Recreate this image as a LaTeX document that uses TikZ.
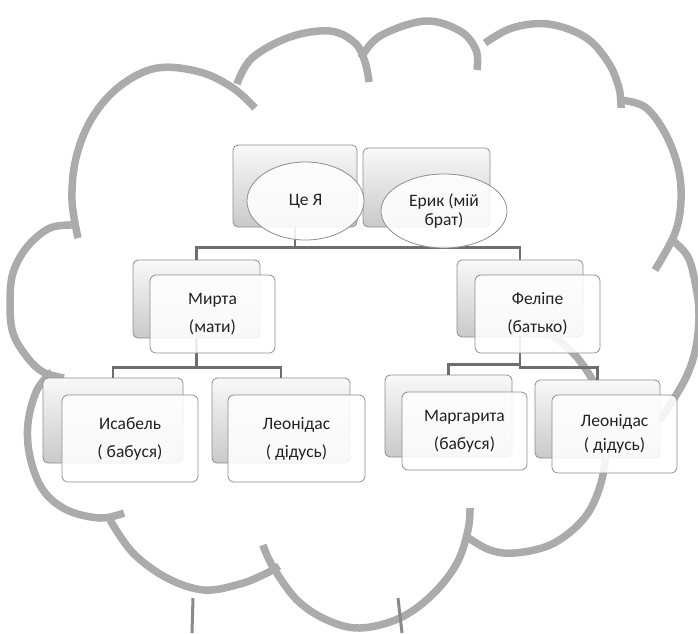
\documentclass[tikz,border=0pt]{standalone}
\usepackage{fontspec}
\setmainfont{Carlito}
\usetikzlibrary{shapes.geometric}
\definecolor{cloudgray}{HTML}{ABABAB}
\definecolor{conngray}{HTML}{6E6E6E}
\definecolor{boxline}{HTML}{8E8E8E}
\definecolor{txt}{HTML}{222222}
\definecolor{trunkgray}{HTML}{8A8A8A}
\begin{document}
\begin{tikzpicture}[x=1pt,y=-1pt,
 cloudline/.style={draw=cloudgray,line width=7.5pt},
 backbox/.style={rectangle,rounded corners=5pt,draw=boxline,line width=0.8pt,top color=gray!5,bottom color=gray!42,inner sep=0pt},
 frontbox/.style={rectangle,rounded corners=6pt,draw=boxline,line width=0.8pt,fill=white,fill opacity=0.88,text opacity=1,inner sep=0pt,text=txt,align=center,font=\fontsize{17.5}{21}\selectfont},
 oval/.style={ellipse,draw=boxline,line width=0.8pt,fill=white,fill opacity=0.88,text opacity=1,inner sep=0pt,text=txt,align=center,font=\fontsize{17.5}{19}\selectfont},
 conn/.style={draw=conngray,line width=2.6pt},
 trunkline/.style={draw=trunkgray,line width=3pt}]
\useasboundingbox[fill=white] (0,0) rectangle (698,633);
% cloud lobes
\draw[cloudline] plot[smooth,tension=0.6] coordinates {(78,238) (72,200) (76,158) (92,118) (120,86) (157,68) (200,72) (233,88) (255,108)};
\draw[cloudline] plot[smooth,tension=0.6] coordinates {(237,84) (252,58) (290,37) (330,31) (355,43) (365,62) (369,82)};
\draw[cloudline] plot[smooth,tension=0.6] coordinates {(361,58) (380,36) (425,21) (460,31) (476,50) (477,70)};
\draw[cloudline] plot[smooth,tension=0.6] coordinates {(485,43) (512,28) (548,24) (585,37) (608,62) (619,88) (621,108)};
\draw[cloudline] plot[smooth,tension=0.6] coordinates {(620,100) (645,107) (665,133) (678,167) (681,200) (675,233) (655,270)};
\draw[cloudline] plot[smooth,tension=0.6] coordinates {(672,240) (688,257) (696,287) (699,315) (696,347) (688,373) (675,397) (660,420)};
\draw[cloudline] plot[smooth,tension=0.6] coordinates {(552,335) (575,355) (595,385) (605,420) (605,463) (595,500) (578,525) (550,545) (515,553) (490,550) (467,537)};
\draw[cloudline] plot[smooth,tension=0.6] coordinates {(263,545) (273,567) (297,600) (327,620) (360,628) (400,618) (433,594) (457,563) (468,530) (470,508)};
\draw[cloudline] plot[smooth,tension=0.6] coordinates {(110,520) (133,553) (167,578) (204,590) (240,584) (265,574) (279,566)};
\draw[cloudline] plot[smooth,tension=0.6] coordinates {(52,372) (37,390) (28,423) (30,457) (43,490) (67,510) (100,518) (124,513)};
\draw[cloudline] plot[smooth,tension=0.6] coordinates {(76,225) (50,228) (27,247) (13,273) (10,303) (13,333) (27,357) (43,372) (64,378)};
% trunk
\coordinate (t1a) at (193,598); \coordinate (t1b) at (192,633);
\coordinate (t2a) at (398,598); \coordinate (t2b) at (402,633);
\draw[trunkline] (t1a) -- (t1b);
\draw[trunkline] (t2a) -- (t2b);
% back boxes
\node[backbox,minimum width=124pt,minimum height=82pt] (ceyaB) at (295,186) {};
\node[backbox,minimum width=127pt,minimum height=79pt] (erykB) at (426.5,187.5) {};
\node[backbox,minimum width=127pt,minimum height=78pt] (myrtaB) at (196.5,299) {};
\node[backbox,minimum width=126pt,minimum height=77pt] (felB) at (520,298.5) {};
\node[backbox,minimum width=140pt,minimum height=85pt] (isabB) at (113,420.5) {};
\node[backbox,minimum width=138pt,minimum height=85pt] (leonLB) at (281,420.5) {};
\node[backbox,minimum width=127pt,minimum height=82pt] (margB) at (448.5,416) {};
\node[backbox,minimum width=125pt,minimum height=78pt] (leonRB) at (597.5,419) {};
% connectors
\draw[conn] (ceyaB.south) -- ++(0,20) -| (myrtaB.north);
\draw[conn] (ceyaB.south) ++(0,20) -| (felB.north);
\draw[conn] (myrtaB.south) -- ++(0,29) -| (isabB.north);
\draw[conn] (myrtaB.south) ++(0,29) -| (leonLB.north);
\draw[conn] (felB.south) -- ++(0,27) -| (margB.north);
\draw[conn] (felB.south) -- ++(0,30) -| (leonRB.north);
% front shapes
\node[oval,minimum width=117pt,minimum height=78pt] (ceya) at (305.5,201) {Це Я};
\node[oval,minimum width=126pt,minimum height=74pt] (eryk) at (444,211) {Ерик (мій\\брат)};
\node[frontbox,minimum width=125pt,minimum height=78pt] (myrta) at (212.5,314) {Мирта\\[7pt](мати)};
\node[frontbox,minimum width=125pt,minimum height=78pt] (fel) at (537.5,314) {Феліпе\\[7pt](батько)};
\node[frontbox,minimum width=136pt,minimum height=87pt] (isab) at (130,438.5) {Исабель\\[7pt]( бабуся)};
\node[frontbox,minimum width=137pt,minimum height=87pt] (leonL) at (296.5,438.5) {Леонідас\\[7pt]( дідусь)};
\node[frontbox,minimum width=125pt,minimum height=78pt] (marg) at (464.5,431) {Маргарита\\[7pt](бабуся)};
\node[frontbox,minimum width=125pt,minimum height=78pt] (leonR) at (614.5,434) {Леонідас\\[3pt]( дідусь)};
\end{tikzpicture}
\end{document}
